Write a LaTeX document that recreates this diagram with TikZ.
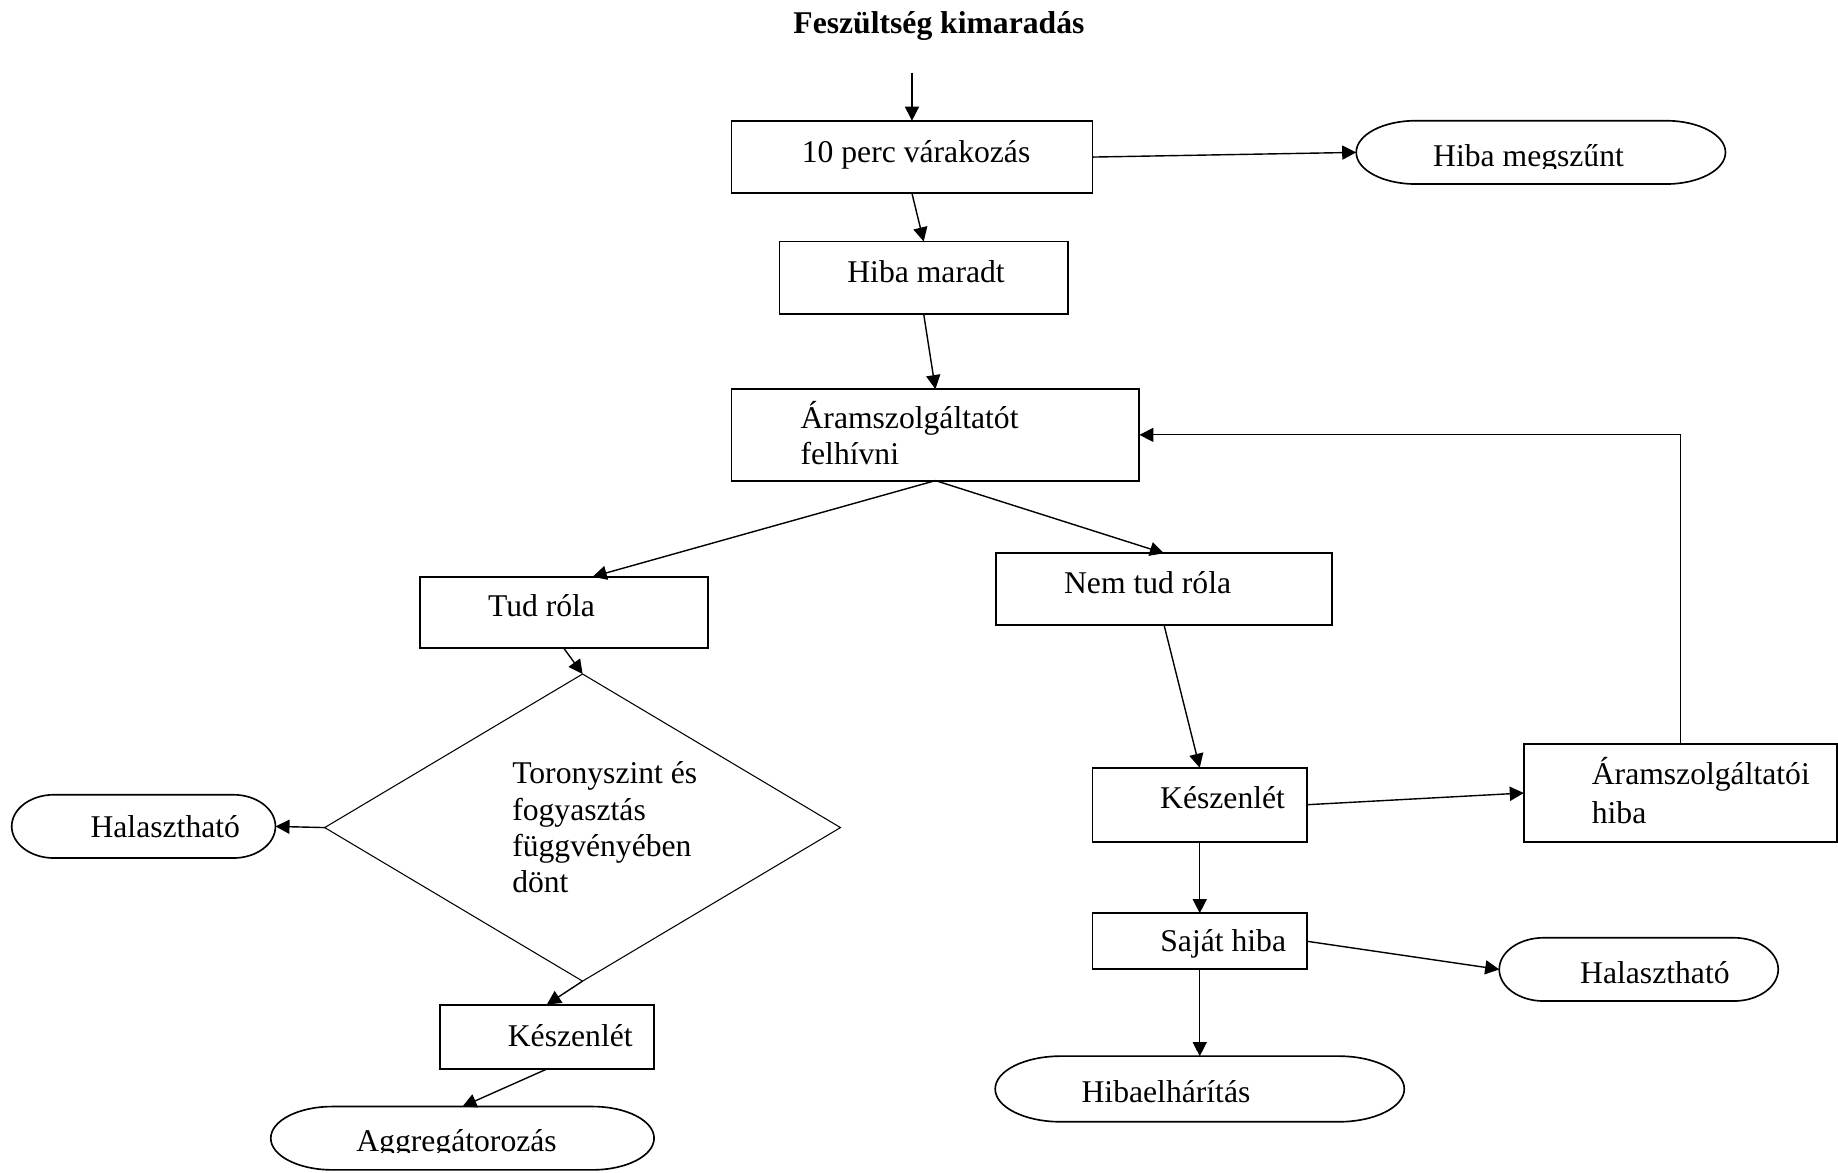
\documentclass[tikz,border=0pt]{standalone}
\usepackage{fontspec}
\setmainfont{Liberation Serif}
\usetikzlibrary{shapes.geometric,arrows.meta,calc}
\newcommand\termoutline[3]{%
  \draw[termline] ($(#1.north west)+(#2,0pt)$) -- ($(#1.north east)+(-#2,0pt)$)
    arc[start angle=90,end angle=-90,x radius=#2,y radius=#3]
    -- ($(#1.south west)+(#2,0pt)$)
    arc[start angle=270,end angle=90,x radius=#2,y radius=#3] -- cycle;}
\begin{document}
\begin{tikzpicture}[x=0.5pt,y=-0.5pt,
  font=\fontsize{13.5}{15.5}\selectfont,
  procbox/.style={draw,line width=0.8pt,rectangle,inner sep=0pt,outer sep=0pt},
  termbox/.style={rectangle,inner sep=0pt,outer sep=0pt},
  termline/.style={line width=0.7pt},
  decbox/.style={draw,line width=0.45pt,diamond,inner sep=0pt,outer sep=0pt},
  lbl/.style={anchor=base,inner sep=0pt,outer sep=0pt},
  lbll/.style={anchor=base west,inner sep=0pt,outer sep=0pt},
  conn/.style={line width=0.6pt,-{Triangle[length=6pt,width=6pt]}},
  loopline/.style={line width=0.5pt,-{Triangle[length=6pt,width=6pt]}}]
\useasboundingbox (0,0) rectangle (1568,1000);
\fill[white] (0,0) rectangle (1568,1000);

% title and entry point
\node[lbl,font=\fontsize{13.5}{15.5}\selectfont\bfseries] (title) at (801,29) {Feszültség kimaradás};
\coordinate (start) at (778,62);

% shapes
\node[procbox,minimum width=154pt,minimum height=31pt] (b1) at (778,134) {};
\node[termbox,minimum width=157.5pt,minimum height=27pt] (e1) at (1314.5,130) {};
\node[procbox,minimum width=123pt,minimum height=31pt] (b2) at (788,237) {};
\node[procbox,minimum width=174pt,minimum height=39pt] (b3) at (798,371) {};
\node[procbox,minimum width=123pt,minimum height=30.5pt] (b4) at (481,522.5) {};
\node[procbox,minimum width=143pt,minimum height=30.5pt] (b5) at (993,502.5) {};
\node[decbox,minimum width=220pt,minimum height=131pt] (d) at (497,706) {};
\node[termbox,minimum width=112.5pt,minimum height=27pt] (eL) at (122.5,705) {};
\node[procbox,minimum width=91.5pt,minimum height=27.5pt] (b6) at (466.5,884.5) {};
\node[termbox,minimum width=163.5pt,minimum height=27pt] (eA) at (394.5,971) {};
\node[procbox,minimum width=91.5pt,minimum height=31.5pt] (b7) at (1023.5,686.5) {};
\node[procbox,minimum width=133.5pt,minimum height=41.5pt] (b8) at (1433.5,676.5) {};
\node[procbox,minimum width=91.5pt,minimum height=24pt] (b9) at (1023.5,803) {};
\node[termbox,minimum width=119pt,minimum height=27pt] (eH) at (1398,827) {};
\node[termbox,minimum width=174.5pt,minimum height=28pt] (eB) at (1023.5,929) {};

\termoutline{e1}{25.3pt}{13.5pt}
\termoutline{eL}{18pt}{13.5pt}
\termoutline{eA}{26.2pt}{13.5pt}
\termoutline{eH}{19pt}{13.5pt}
\termoutline{eB}{28pt}{14pt}

% texts
\node[lbl] (t1) at (781.5,138.5) {10 perc várakozás};
\begin{scope}
  \clip (1157,103) rectangle (1472,143.5);
  \node[lbl] (te1) at (1304,142) {Hiba megszűnt};
\end{scope}
\node[lbl] (t2) at (790,241) {Hiba maradt};
\node[lbll] (t3) at (683,365.6) {\begin{tabular}[t]{@{}l@{}}Áramszolgáltatót\\felhívni\end{tabular}};
\node[lbl] (t4) at (462,526) {Tud róla};
\node[lbl] (t5) at (979,506) {Nem tud róla};
\node[lbll] (td) at (437,668.7) {\begin{tabular}[t]{@{}l@{}}Toronyszint és\\fogyasztás\\függvényében\\dönt\end{tabular}};
\node[lbl] (tL) at (141,714.7) {Halasztható};
\node[lbl] (t6) at (486.5,892.6) {Készenlét};
\begin{scope}
  \clip (231,944) rectangle (558,983.5);
  \node[lbl] (tA) at (389.5,982.4) {Aggregátorozás};
\end{scope}
\node[lbl] (t7) at (1043,689.5) {Készenlét};
\node[lbll] (t8) at (1358,669) {\begin{tabular}[t]{@{}l@{}}Áramszolgáltatói\\[1.2pt]hiba\end{tabular}};
\node[lbl] (t9) at (1043.5,811.8) {Saját hiba};
\node[lbl] (tH) at (1411.8,838.8) {Halasztható};
\node[lbl] (tB) at (994.7,940.3) {Hibaelhárítás};

% connectors
\draw[conn] (start) -- (b1.north);
\draw[conn] (b1.east) -- (e1.west);
\draw[conn] (b1.south) -- (b2.north);
\draw[conn] (b2.south) -- (b3.north);
\draw[conn] (b3.south) -- ($(b4.north west)!0.6!(b4.north east)$);
\draw[conn] (b3.south) -- (b5.north);
\draw[conn] (b4.south) -- (d.north);
\draw[conn] (d.west) -- (eL.east);
\draw[conn] (d.south) -- (b6.north);
\draw[conn] (b6.south) -- (eA.north);
\draw[conn] (b5.south) -- (b7.north);
\draw[conn] (b7.east) -- (b8.west);
\draw[loopline] (b8.north) |- (b3.east);
\draw[conn] (b7.south) -- (b9.north);
\draw[conn] (b9.east) -- (eH.west);
\draw[conn] (b9.south) -- (eB.north);
\end{tikzpicture}
\end{document}
